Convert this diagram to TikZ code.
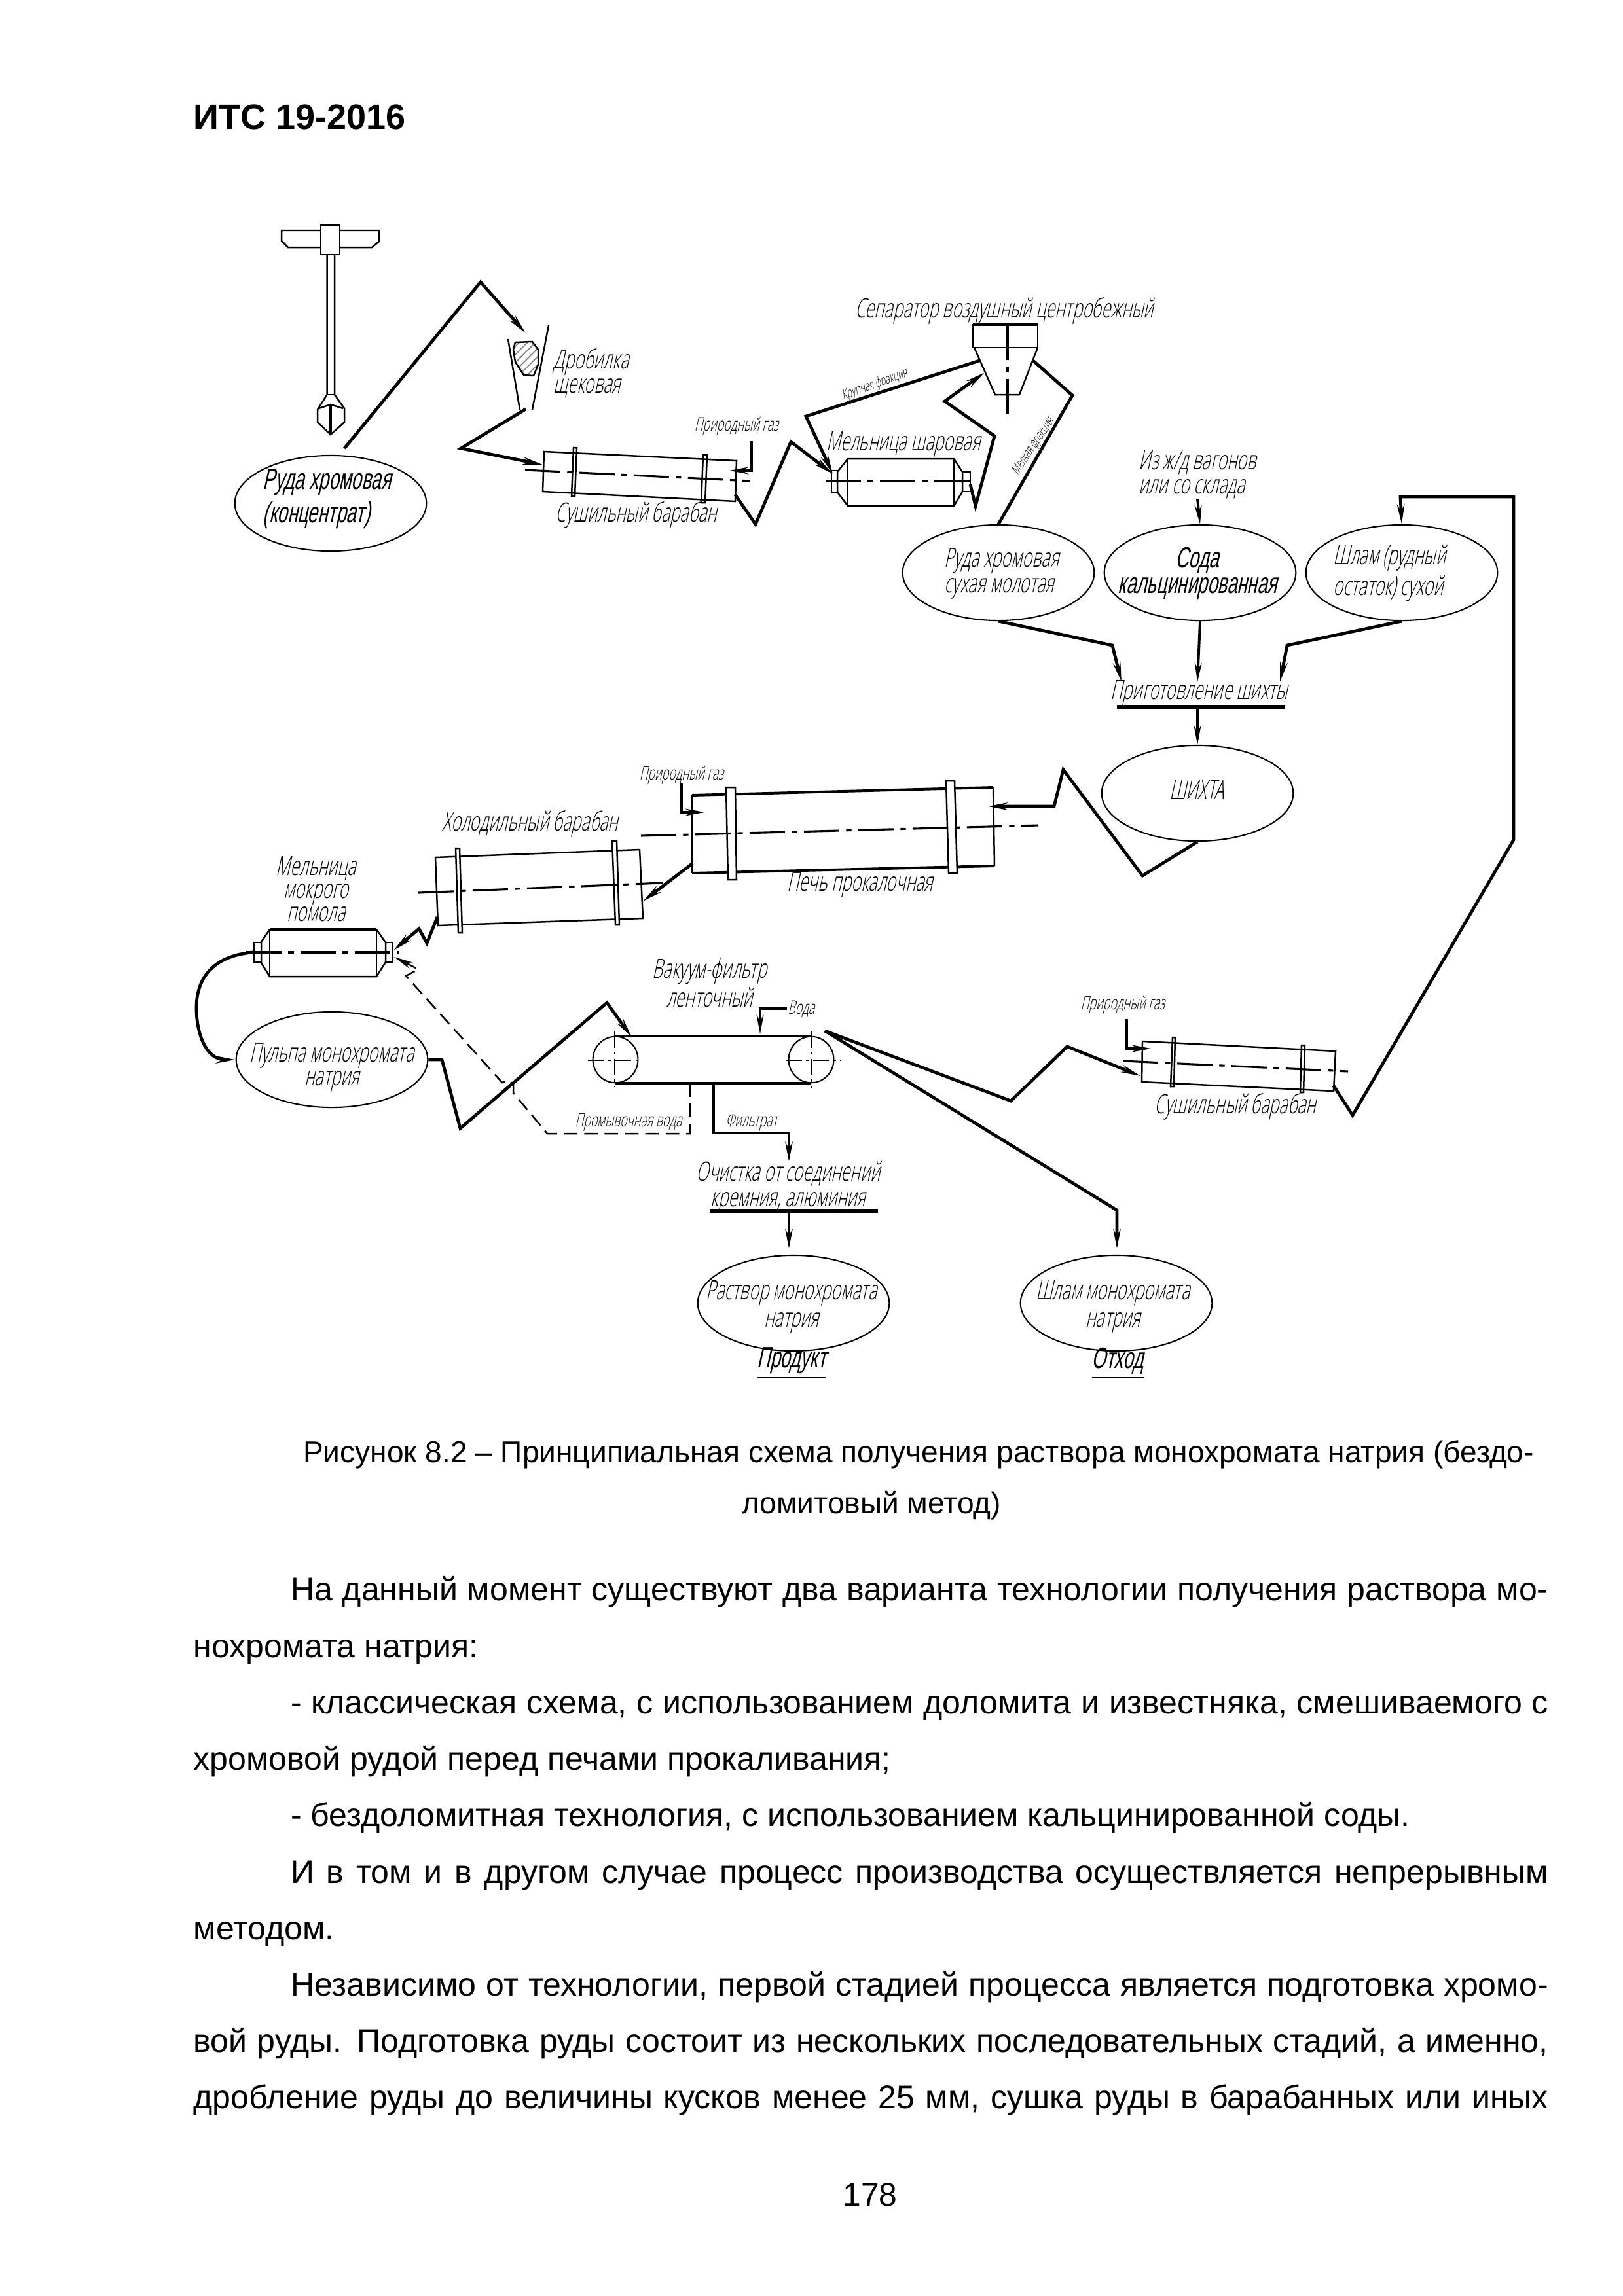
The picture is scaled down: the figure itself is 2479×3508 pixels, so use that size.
\documentclass[tikz,border=0pt]{standalone}
\usepackage{fontspec}
\usetikzlibrary{arrows.meta,positioning,shapes.geometric,patterns}
\setmainfont{Liberation Sans}
\newfontfamily\gost[FakeStretch=0.62,FakeSlant=0.22,BoldFont={Liberation Sans}]{Open Sans Light}
\newcommand{\gostL}{\gost\fontsize{9.8}{8.8}\selectfont}
\newcommand{\gostB}{\gost\fontsize{10.8}{8.8}\selectfont\bfseries}
\newcommand{\gostM}{\gost\fontsize{6.9}{8}\selectfont}
\newcommand{\gostS}{\gost\fontsize{5}{6}\selectfont}
\begin{document}
\begin{tikzpicture}[x=0.2409pt,y=-0.2409pt,node distance=3.2pt]
    \tikzstyle{lbl}=[inner sep=0pt,font=\gostL,align=left]
    \tikzstyle{lblc}=[inner sep=0pt,font=\gostL,align=center]
    \tikzstyle{gas}=[inner sep=0pt,font=\gostM]
    \tikzstyle{fr}=[inner sep=0pt,font=\gostS]
    \tikzstyle{el}=[draw,ellipse,inner sep=0pt,line width=0.5pt,minimum width=70.5pt,minimum height=35.2pt]
    \tikzstyle{eq}=[draw,line width=0.6pt]
    \tikzstyle{eqb}=[draw,line width=0.95pt]
    \tikzstyle{ax}=[line width=0.75pt,dash pattern=on 13pt off 2.5pt on 2pt off 2.5pt]
    \tikzstyle{axp}=[line width=0.6pt,dash pattern=on 6pt off 1.5pt on 1pt off 1.5pt]
    \tikzstyle{fl}=[line width=1.15pt,line join=miter]
    \tikzstyle{tip}=[-{Stealth[length=7pt,width=2.6pt]}]
    \useasboundingbox (0,0) rectangle (2479,3508);
    % page text
    \node[anchor=west,inner sep=0pt,font=\fontsize{13}{15}\selectfont\bfseries] (hdr) at (295,179) {ИТС 19-2016};
    \node[inner sep=0pt,font=\fontsize{11.1}{14}\selectfont] (cap1) at (1403,2222) {Рисунок 8.2 – Принципиальная схема получения раствора монохромата натрия (бездо-};
    \node[inner sep=0pt,font=\fontsize{11.1}{14}\selectfont] (cap2) at (1331,2300) {ломитовый метод)};
    \node[anchor=north west,inner sep=0pt,text width=498.4pt,align=justify,font=\fontsize{12.05}{20.77}\selectfont] (txt) at (295,2408) {%
      \hspace*{35.7pt}На данный момент существуют два варианта технологии получения раствора мо-\linebreak
      нохромата натрия:\par
      \hspace*{35.7pt}- классическая схема, с использованием доломита и известняка, смешиваемого с\linebreak
      хромовой рудой перед печами прокаливания;\par
      \hspace*{35.7pt}- бездоломитная технология, с использованием кальцинированной соды.\par
      \hspace*{35.7pt}И в том и в другом случае процесс производства осуществляется непрерывным\linebreak
      методом.\par
      \hspace*{35.7pt}Независимо от технологии, первой стадией процесса является подготовка хромо-\linebreak
      вой руды. Подготовка руды состоит из нескольких последовательных стадий, а именно,\linebreak
      {\parfillskip=0pt дробление руды до величины кусков менее 25 мм, сушка руды в барабанных или иных\par}};
    \node[inner sep=0pt,font=\fontsize{12}{14}\selectfont] (pg) at (1329,3353) {178};
    % ore and hammer
    \draw[eq] (430,352) -- (579,352) -- (579,369) -- (568,378) -- (440,378) -- (430,368) -- cycle;
    \draw[eq,fill=white] (490,344) rectangle (519,389);
    \draw[eq] (499.5,389) -- (499.5,603) -- (485,626) -- (485,645) -- (505,664) -- (526,645) -- (526,624) -- (511,603) -- (511,389);
    \draw[eq] (499.5,603) -- (511,603);
    \draw[eq] (487,624) -- (505,618) -- (524,624);
    \draw[eqb] (505,618) -- (505,664);
    \node[el] (ore) at (505,769) {};
    \node[lbl,font=\gostB,anchor=west] (orel) at (401,762) {Руда хромовая\\[1.2pt](концентрат)};
    % crusher
    \coordinate (orebtm) at (526,685);
    \coordinate (crin) at (803,509);
    \coordinate (crout) at (803,625);
    \draw[fl,tip] (orebtm) -- (734,431) -- (crin);
    \draw[eq] (776,518) -- (794,626);
    \draw[eq] (838,497) -- (813,626);
    \draw[eq,pattern=north east lines,pattern color=gray] (787,523) -- (813,522) -- (822,534) -- (822,557) -- (815,574) -- (800,573) -- (787,553) -- (784,534) -- cycle;
    \node[lbl,anchor=west] (crl) at (845,570) {Дробилка\\щековая};
    % first dryer
    \coordinate (dr1in) at (829,710);
    \coordinate (dr1out) at (1123,756);
    \draw[fl,tip] (crout) -- (704,685) -- (dr1in);
    \draw[eq] (831,690) -- (1125,704) -- (1123,766) -- (829,751) -- cycle;
    \draw[eq] (876,684) -- (881,684) -- (878,758) -- (873,758) -- cycle;
    \draw[eq] (1074,695) -- (1080,695) -- (1077,768) -- (1071,768) -- cycle;
    \draw[ax] (802,718) -- (1146,735);
    \coordinate (gas1) at (1148,674);
    \coordinate (gas1e) at (1114,719);
    \draw[eqb,tip] (gas1) -- (1148,719) -- (gas1e);
    \node[gas] (gas1l) at (1125,651) {Природный газ};
    \node[lbl] (dr1l) at (972,787) {Сушильный барабан};
    % ball mill
    \coordinate (ml1in) at (1272,724);
    \draw[fl,tip] (dr1out) -- (1154,801) -- (1208,675) -- (ml1in);
    \draw[eq] (1295,701) -- (1457,701) -- (1470,721) -- (1470,751) -- (1457,773) -- (1295,773) -- (1279,752) -- (1279,721) -- cycle;
    \draw[eq] (1295,701) -- (1295,773);
    \draw[eq] (1457,701) -- (1457,773);
    \draw[eq] (1270,719) rectangle (1279,752);
    \draw[eq] (1470,721) rectangle (1482,751);
    \draw[ax] (1261,735) -- (1490,735);
    \node[lbl] (ml1l) at (1380,679) {Мельница шаровая};
    % separator
    \node[lbl] (sepl) at (1534,475) {Сепаратор воздушный центробежный};
    \draw[eq] (1486,496) rectangle (1585,531);
    \draw[eqb] (1486,496) -- (1585,496);
    \draw[eq] (1488,531) -- (1520,603) -- (1557,603) -- (1585,531);
    \draw[ax] (1539,496) -- (1539,637);
    \coordinate (sepcoarse) at (1496,551);
    \coordinate (sepin) at (1504,569);
    \coordinate (sepfine) at (1578,551);
    \coordinate (ml1out) at (1482,740);
    \draw[fl,tip] (sepcoarse) -- (1231,636) -- (ml1in);
    \draw[fl,tip] (ml1out) -- (1490,773) -- (1519,666) -- (1443,613) -- (sepin);
    \node[fr,rotate=20] (frc) at (1336,588) {Крупная фракция};
    \node[fr,rotate=56] (frf) at (1578,682) {Мелкая фракция};
    % mix row
    \node[el] (e1) at (1525,875) {};
    \node[lbl,anchor=west] (e1l) at (1442,876) {Руда хромовая\\[0.6pt]сухая молотая};
    \node[el,right=of e1] (e2) {};
    \node[lblc,font=\gostB] (e2l) at (1829,876) {Сода\\[0.6pt]кальцинированная};
    \node[el,right=of e2] (e3) {};
    \node[lbl,anchor=west] (e3l) at (2036,876) {Шлам (рудный\\[0.6pt]остаток) сухой};
    \draw[fl] (sepfine) -- (1638,604) -- (e1.north);
    \node[lbl,anchor=west] (rail) at (1739,725) {Из ж/д вагонов\\или со склада};
    \coordinate (railout) at (1829,762);
    \draw[eqb,tip] (railout) -- (e2.north);
    \node[lblc] (mixl) at (1832,1059) {Приготовление шихты};
    \coordinate (bar1l) at (1706,1080);
    \coordinate (bar1r) at (1963,1080);
    \draw[line width=1.3pt] (bar1l) -- (bar1r);
    \coordinate (mix1) at (1713,1042);
    \coordinate (mix2) at (1829,1042);
    \coordinate (mix3) at (1955,1042);
    \draw[fl,tip] (e1.south) -- (1699,986) -- (mix1);
    \draw[eqb,tip] (e2.south) -- (mix2);
    \draw[fl,tip] (e3.south) -- (1966,986) -- (mix3);
    \node[el] (sh) at (1829,1212) {};
    \node[lblc] (shl) at (1828,1207) {ШИХТА};
    \draw[eqb,tip] (1829,1080) -- (sh.north);
    % kiln
    \coordinate (klin) at (1509,1232);
    \draw[fl,tip] (sh.south) -- (1745,1338) -- (1624,1176) -- (1610,1232) -- (klin);
    \draw[eqb] (1057,1215) -- (1517,1203);
    \draw[eqb] (1057,1334) -- (1519,1323);
    \draw[eq] (1057,1215) -- (1057,1334);
    \draw[eq] (1517,1203) -- (1519,1323);
    \draw[eq,fill=white] (1109,1203) -- (1123,1203) -- (1125,1344) -- (1112,1344) -- cycle;
    \draw[eq,fill=white] (1445,1193) -- (1458,1193) -- (1462,1334) -- (1449,1334) -- cycle;
    \draw[ax] (979,1277) -- (1586,1261);
    \coordinate (gas2) at (1041,1197);
    \coordinate (gas2e) at (1076,1241);
    \draw[eqb,tip] (gas2) -- (1041,1241) -- (gas2e);
    \node[gas] (gas2l) at (1041,1184) {Природный газ};
    \node[lbl] (kll) at (1314,1352) {Печь прокалочная};
    % cooler
    \coordinate (klout) at (1058,1319);
    \coordinate (clin) at (982,1377);
    \draw[fl,tip] (klout) -- (clin);
    \draw[eq] (665,1310) -- (977,1298) -- (982,1403) -- (669,1414) -- cycle;
    \draw[eq,fill=white] (696,1296) -- (702,1296) -- (706,1425) -- (700,1425) -- cycle;
    \draw[eq,fill=white] (935,1285) -- (942,1285) -- (946,1413) -- (940,1413) -- cycle;
    \draw[ax] (639,1364) -- (1012,1349);
    \node[lbl] (cll) at (810,1259) {Холодильный барабан};
    % wet mill
    \coordinate (clout) at (668,1401);
    \coordinate (ml2in) at (601,1452);
    \coordinate (ml2w) at (602,1462);
    \draw[fl,tip] (clout) -- (652,1441) -- (640,1419) -- (ml2in);
    \draw[eq] (412,1420) -- (399,1439) -- (399,1471) -- (412,1492) -- (575,1492) -- (589,1470) -- (589,1440) -- (575,1420);
    \draw[eqb] (412,1420) -- (575,1420);
    \draw[eq] (412,1420) -- (412,1492);
    \draw[eq] (575,1420) -- (575,1492);
    \draw[eq] (388,1440) rectangle (399,1470);
    \draw[eq] (589,1440) rectangle (600,1470);
    \draw[ax] (376,1455) -- (609,1455);
    \node[lblc] (ml2l) at (483,1358) {Мельница\\[-0.4pt]мокрого\\[-0.4pt]помола};
    % pulp
    \node[el] (pl) at (507,1619) {};
    \node[lblc] (pll) at (507,1631) {Пульпа монохромата\\натрия};
    \coordinate (ml2out) at (386,1455);
    \draw[fl,tip] (ml2out) .. controls (330,1460) and (300,1490) .. (300,1540) .. controls (300,1580) and (315,1619) .. (pl.west);
    % belt filter
    \node[lblc] (fll) at (1084,1501) {Вакуум-фильтр\\ленточный};
    \node[draw,ellipse,inner sep=0pt,line width=0.5pt,minimum width=16.6pt,minimum height=17pt] (p1) at (940,1619) {};
    \node[draw,ellipse,inner sep=0pt,line width=0.5pt,minimum width=16.6pt,minimum height=17pt] (p2) at (1239,1619) {};
    \draw[eqb] (p1.north) -- (p2.north);
    \draw[eqb] (p1.south) -- (p2.south);
    \draw[axp] (898,1620) -- (981,1620);
    \draw[axp] (939,1576) -- (939,1661);
    \draw[axp] (1200,1620) -- (1285,1620);
    \draw[axp] (1240,1576) -- (1240,1662);
    \coordinate (flin) at (965,1585);
    \draw[fl,tip] (pl.east) -- (675,1619) -- (703,1724) -- (927,1532) -- (flin);
    \node[gas] (wtl) at (1224,1542) {Вода};
    \coordinate (wtin) at (1202,1541);
    \coordinate (wte) at (1161,1580);
    \draw[eqb,tip] (wtin) -- (1161,1541) -- (wte);
    % wash water
    \coordinate (wsh) at (1054,1655);
    \draw[eq,dash pattern=on 5pt off 2.5pt,tip] (wsh) -- (1054,1732) -- (836,1732) -- (784,1670) -- (784,1657) -- (778,1651) -- (767,1654) -- (620,1491) -- (639,1481) -- (ml2w);
    \node[gas] (wshl) at (960,1715) {Промывочная вода};
    % filtrate
    \coordinate (ftr) at (1090,1655);
    \coordinate (ftre) at (1205,1775);
    \draw[fl,tip] (ftr) -- (1090,1731) -- (1205,1731) -- (ftre);
    \node[gas] (ftrl) at (1148,1715) {Фильтрат};
    \node[lblc] (cln) at (1204,1814) {Очистка от соединений\\[0.6pt]кремния, алюминия};
    \coordinate (bar2l) at (1084,1850);
    \coordinate (bar2r) at (1341,1850);
    \draw[line width=1.3pt] (bar2l) -- (bar2r);
    \node[el] (pr) at (1212,1991) {};
    \node[lblc] (prl) at (1209,1997) {Раствор монохромата\\[1.2pt]натрия};
    \node[el] (wa) at (1705,1991) {};
    \node[lblc] (wal) at (1700,1997) {Шлам монохромата\\[1.2pt]натрия};
    \coordinate (bar2m) at (1205,1850);
    \coordinate (pre) at (1205,1908);
    \draw[fl,tip] (bar2m) -- (pre);
    \node[lblc,font=\gostB] (prt) at (1209,2083) {\underline{Продукт}};
    \node[lblc,font=\gostB] (wat) at (1707,2083) {\underline{Отход}};
    % sludge and last dryer
    \coordinate (apex) at (1260,1575);
    \coordinate (wae) at (1706,1908);
    \coordinate (dr3in) at (1742,1644);
    \coordinate (dr3out) at (2037,1659);
    \draw[fl,tip] (apex) -- (1544,1682) -- (1630,1599) -- (dr3in);
    \draw[fl,tip] (apex) -- (1706,1849) -- (wae);
    \draw[eq] (1745,1591) -- (2040,1606) -- (2037,1667) -- (1744,1653) -- cycle;
    \draw[eq] (1791,1585) -- (1795,1585) -- (1793,1660) -- (1788,1660) -- cycle;
    \draw[eq] (1988,1597) -- (1993,1597) -- (1991,1669) -- (1986,1669) -- cycle;
    \draw[ax] (1715,1621) -- (2059,1637);
    \coordinate (gas3) at (1721,1557);
    \coordinate (gas3e) at (1758,1602);
    \draw[eqb,tip] (gas3) -- (1721,1602) -- (gas3e);
    \node[gas] (gas3l) at (1715,1535) {Природный газ};
    \node[lbl] (dr3l) at (1887,1691) {Сушильный барабан};
    \draw[fl,tip] (dr3out) -- (2066,1704) -- (2312,1283) -- (2312,759) -- (2139,759) -- (e3.north);
\end{tikzpicture}
\end{document}
